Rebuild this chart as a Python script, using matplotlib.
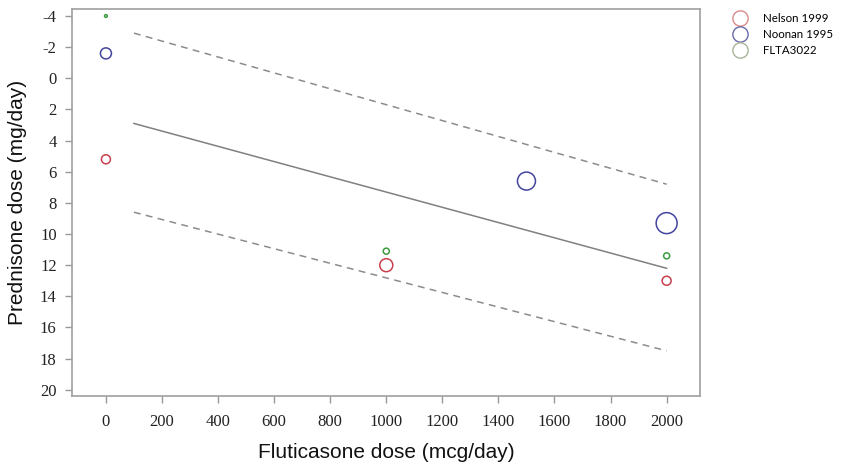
import matplotlib.pyplot as plt
from matplotlib.lines import Line2D

# study data: fluticasone dose, prednisone dose, marker size (weight)
nelson_x = [0, 1000, 2000]
nelson_y = [5.2, 12.0, 13.0]
nelson_s = [42, 88, 42]

noonan_x = [0, 1500, 2000]
noonan_y = [-1.6, 6.6, 9.3]
noonan_s = [63, 168, 228]

flta_x = [0, 1000, 2000]
flta_y = [-4.0, 11.1, 11.4]
flta_s = [4, 19, 19]

# regression line and prediction limits
fit_x = [100, 2000]
fit_y = [2.9, 12.2]
upper_y = [-2.9, 6.8]
lower_y = [8.6, 17.5]

x_ticks = list(range(0, 2001, 200))
y_ticks = list(range(-4, 21, 2))

SERIF = 'Liberation Serif'
SANS = 'Liberation Sans'

fig = plt.figure(figsize=(8.51, 4.71), dpi=100)
ax = fig.add_axes([72 / 851, 1 - 396 / 471, 628 / 851, 387 / 471])

ax.scatter(nelson_x, nelson_y, s=nelson_s, facecolors='none',
           edgecolors='#c8404c', linewidths=1.1, zorder=3)
ax.scatter(noonan_x, noonan_y, s=noonan_s, facecolors='none',
           edgecolors='#4444a0', linewidths=1.1, zorder=3)
ax.scatter(flta_x, flta_y, s=flta_s, facecolors='none',
           edgecolors='#3c9a40', linewidths=1.1, zorder=3)

ax.plot(fit_x, fit_y, color='#808080', lw=1.1)
ax.plot(fit_x, upper_y, color='#8c8c8c', lw=1.1, ls=(0, (4.5, 3.5)))
ax.plot(fit_x, lower_y, color='#8c8c8c', lw=1.1, ls=(0, (4.5, 3.5)))

ax.set_xlim(-121, 2119)
ax.set_ylim(20.4, -4.45)

ax.set_xticks(x_ticks)
ax.set_xticklabels([str(t) for t in x_ticks], fontfamily=SERIF, fontsize=12,
                   color='#222222')
ax.set_yticks(y_ticks)
ax.set_yticklabels([str(t).replace('\u2212', '-') for t in y_ticks],
                   fontfamily=SERIF, fontsize=12, color='#222222')
ax.tick_params(axis='both', direction='out', length=5, width=1,
               color='#999999', pad=6)
ax.tick_params(axis='x', pad=8)

for sp in ax.spines.values():
    sp.set_color('#a0a0a0')
    sp.set_linewidth(1.2)

ax.set_xlabel('Fluticasone dose (mcg/day)', fontfamily=SANS, fontsize=15,
              color='#111111', labelpad=9)
ax.set_ylabel('Prednisone dose (mg/day)', fontfamily=SANS, fontsize=15,
              color='#111111', labelpad=9)

handles = [
    Line2D([], [], ls='none', marker='o', ms=11, mfc='none', mec='#d88a8a',
           mew=1.0, label='Nelson 1999'),
    Line2D([], [], ls='none', marker='o', ms=11, mfc='none', mec='#6a6aa8',
           mew=1.0, label='Noonan 1995'),
    Line2D([], [], ls='none', marker='o', ms=11, mfc='none', mec='#a8b498',
           mew=1.0, label='FLTA3022'),
]
fig.legend(handles=handles, loc='upper left', bbox_to_anchor=(0.846, 0.99),
           frameon=False, prop={'family': 'Lato', 'size': 8.3},
           handletextpad=1.0, labelspacing=0.45, borderaxespad=0.3)

fig.savefig('out.png', dpi=100)
